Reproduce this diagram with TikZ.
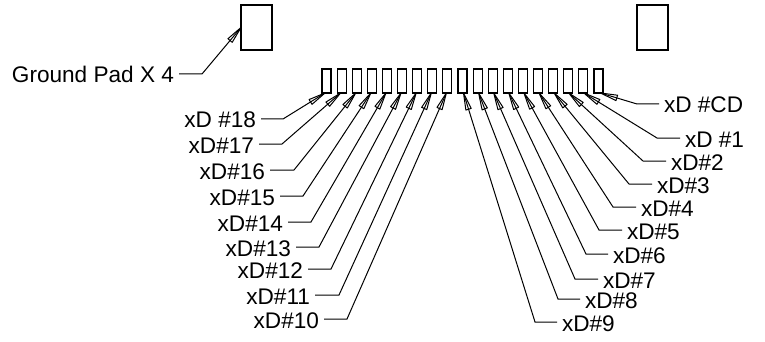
\documentclass[tikz,border=0pt]{standalone}
\usepackage{fontspec}
\setmainfont{Liberation Sans}
\usetikzlibrary{arrows.meta}
\pgfdeclarearrow{
  name=cadtip,
  setup code={\pgfarrowssettipend{0pt}\pgfarrowssetlineend{-3pt}\pgfarrowssetbackend{-17pt}\pgfarrowssetvisualbackend{-17pt}},
  drawing code={\pgfsetdash{}{0pt}\pgfsetroundjoin
    \pgfpathmoveto{\pgfpoint{0pt}{0pt}}
    \pgfpathlineto{\pgfpoint{-17pt}{2.8pt}}
    \pgfpathlineto{\pgfpoint{-17pt}{-2.8pt}}
    \pgfpathclose\pgfusepathqstroke},
  defaults={}
}
\tikzset{
  padbox/.style={draw=black,line width=1.2pt,minimum width=9pt,minimum height=24pt,inner sep=0pt,outer sep=0pt},
  bigpad/.style={draw=black,line width=1.2pt,minimum width=31pt,minimum height=45pt,inner sep=0pt,outer sep=0pt},
  lab/.style={font=\fontsize{22.6}{24}\selectfont,inner xsep=5pt,inner ysep=0pt,outer sep=0pt,text height=18pt,text depth=0pt},
  leader/.style={draw=black,line width=1pt,-cadtip}
}
\begin{document}
\begin{tikzpicture}[x=1pt,y=-1pt]
\useasboundingbox (0,0) rectangle (765,342);
\node[bigpad] (g1) at (256.5,27.5) {};
\node[bigpad] (g2) at (652.5,27.5) {};
\foreach \i in {1,...,19}{
  \node[padbox] (p\i) at ({326.5+15.11*(\i-1)},81) {};
}
\node[lab,anchor=east] (lg) at (179,74) {Ground Pad X 4};
\coordinate (eg) at (202,74);
\draw[leader] (lg.east) -- (eg) -- (g1.west);
\foreach \n/\t/\sx/\ex/\y/\p/\dx in {
  18/xD \#18/261/283/119/1/-1.5,
  17/xD\#17/259/282/144/2/-1,
  16/xD\#16/270/294/170/3/-1,
  15/xD\#15/280/303/196/4/-1,
  14/xD\#14/288/311/222/5/-1,
  13/xD\#13/296/319/247/6/-1,
  12/xD\#12/308/331/269/7/-1,
  11/xD\#11/315/339/295/8/-1,
  10/xD\#10/324/347/319/9/-1}{
  \node[lab,anchor=east] (l\n) at (\sx,\y) {\t};
  \coordinate (e\n) at (\ex,\y);
  \draw[leader] (l\n.east) -- (e\n) -- ([xshift=\dx pt]p\p.south);
}
\foreach \n/\t/\sx/\ex/\y/\p/\dx in {
  CD/xD \#CD/659/637/104/19/2,
  1/xD \#1/680/657/138/18/0.5,
  2/xD\#2/666/643/161/17/0.5,
  3/xD\#3/652/629/184/16/1,
  4/xD\#4/636/613/207/15/1,
  5/xD\#5/622/599/230/14/1,
  6/xD\#6/608/586/254/13/1,
  7/xD\#7/598/575/279/12/1,
  8/xD\#8/580/558/299/11/1,
  9/xD\#9/557/535/322/10/1}{
  \node[lab,anchor=west] (r\n) at (\sx,\y) {\t};
  \coordinate (f\n) at (\ex,\y);
  \draw[leader] (r\n.west) -- (f\n) -- ([xshift=\dx pt]p\p.south);
}
\end{tikzpicture}
\end{document}
